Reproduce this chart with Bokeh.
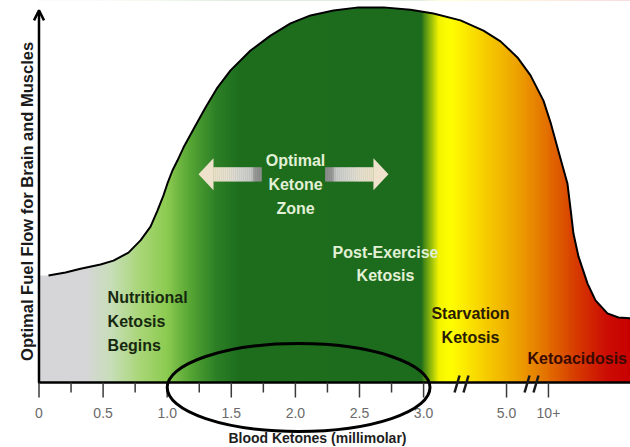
import numpy as np
from bokeh.plotting import figure
from bokeh.models import Range1d, Arrow, OpenHead
from bokeh.core.properties import value
from bokeh.embed import file_html
from bokeh.resources import INLINE

# ---- data -------------------------------------------------------------
# Blood-ketone axis: linear 0-3 mmol/L, then compressed past two breaks
MAJOR_TICKS = [0.0, 0.5, 1.0, 1.5, 2.0, 2.5, 3.0, 3.647, 3.974]
MAJOR_LABELS = ["0", "0.5", "1.0", "1.5", "2.0", "2.5", "3.0", "5.0", "10+"]
MINOR_TICKS = [0.25, 0.75, 1.25, 1.75, 2.25, 2.75]
AXIS_BREAKS = [3.296, 3.842]

# Relative fuel flow (0-100) along the ketone axis
CURVE_X = [0.074, 0.207, 0.324, 0.480, 0.581, 0.698, 0.792, 0.870, 0.924,
           0.971, 1.002, 1.041, 1.080, 1.127, 1.221, 1.299, 1.392, 1.494,
           1.650, 1.806, 1.962, 2.118, 2.297, 2.492, 2.687, 2.898, 3.077,
           3.288, 3.467, 3.600, 3.732, 3.834, 3.935, 3.990, 4.044, 4.083,
           4.122, 4.146, 4.169, 4.208, 4.279, 4.341, 4.434, 4.520, 4.614]
CURVE_Y = [28.0, 28.8, 29.8, 30.9, 31.9, 34.0, 37.2, 40.8, 45.0,
           49.0, 52.1, 55.5, 58.1, 61.5, 67.3, 72.0, 77.2, 81.7,
           86.9, 90.8, 94.0, 96.1, 97.4, 98.2, 98.2, 97.6, 96.6,
           94.8, 92.1, 89.3, 85.1, 80.4, 73.8, 68.1, 61.5, 56.8,
           52.1, 45.5, 39.0, 33.0, 25.9, 21.5, 18.1, 17.0, 16.8]

OPTIMAL_ZONE = [1.244, 2.726]      # span of the double arrow
HIGHLIGHT_RANGE = [1.0, 3.05]      # band circled on the axis

ZONE_LINES = ["Optimal", "Ketone", "Zone"]
POST_LINES = ["Post-Exercise", "Ketosis"]
NUTRI_LINES = ["Nutritional", "Ketosis", "Begins"]
STARV_LINES = ["Starvation", "Ketosis"]
ACID_LINES = ["Ketoacidosis"]

X_TITLE = "Blood Ketones (millimolar)"
Y_TITLE = "Optimal Fuel Flow for Brain and Muscles"

# ---- styling ------------------------------------------------------------
X_MAX = 4.614
Y_MAX = 100.0

STOP_X = [0.0, 0.363, 0.558, 0.792, 0.987, 1.182, 1.377, 1.556, 2.976,
          3.038, 3.116, 3.210, 3.444, 3.717, 3.951, 4.185, 4.419, 4.614]
STOP_RGB = [(214, 214, 218), (214, 215, 216), (200, 222, 185), (168, 214, 118),
            (142, 204, 82), (85, 165, 52), (45, 128, 38), (30, 110, 30),
            (29, 108, 29), (120, 170, 15), (245, 245, 0), (255, 255, 0),
            (248, 212, 0), (238, 165, 0), (228, 115, 0), (215, 60, 0),
            (205, 15, 5), (200, 0, 0)]

SANS = value("Liberation Sans")
LIGHT_TXT = "#e2f0d6"

p = figure(width=630, height=447, title=None,
           x_range=Range1d(-0.3003, X_MAX), y_range=Range1d(-17.016, Y_MAX),
           min_border=0, toolbar_location=None, output_backend="svg",
           x_axis_location=None, y_axis_location=None)
p.grid.visible = False
p.outline_line_color = None
p.background_fill_color = "white"
p.border_fill_color = "white"

# horizontal colour band under the curve
N = 620
cols = np.linspace(0, X_MAX, N)
img = np.empty((1, N), dtype=np.uint32)
view = img.view(dtype=np.uint8).reshape((1, N, 4))
for ch in range(3):
    view[0, :, ch] = np.interp(cols, STOP_X, [c[ch] for c in STOP_RGB]).astype(np.uint8)
view[0, :, 3] = 255
p.image_rgba(image=[img], x=0, y=0, dw=X_MAX, dh=Y_MAX)

# blank out everything above the curve
cover_x = [0.0] + CURVE_X + [X_MAX + 0.05, X_MAX + 0.05, 0.0]
cover_y = [CURVE_Y[0]] + CURVE_Y + [CURVE_Y[-1], Y_MAX + 1, Y_MAX + 1]
p.patch(cover_x, cover_y, fill_color="white", line_color=None)
p.line(CURVE_X, CURVE_Y, line_color="black", line_width=2)

# double arrow of the optimal zone
HEAD_L, SHAFT_L = 0.117, 0.375
ARROW_V, HEAD_H, SHAFT_H = 54.5, 4.2, 1.85
SHAFT_STOPS = [0.0, 0.3, 0.55, 0.8, 0.86, 1.0]
SHAFT_RGB = [(236, 224, 200), (230, 222, 208), (214, 212, 208), (200, 200, 200),
             (150, 150, 150), (140, 140, 140)]
n_strip = 24
frac = (np.arange(n_strip) + 0.5) / n_strip
strip_cols = ["#%02x%02x%02x" % tuple(int(np.interp(f, SHAFT_STOPS, [c[i] for c in SHAFT_RGB])) for i in range(3))
              for f in frac]
for tip, sgn in ((OPTIMAL_ZONE[0], 1), (OPTIMAL_ZONE[1], -1)):
    base = tip + sgn * HEAD_L
    p.patch([tip, base, base], [ARROW_V, ARROW_V + HEAD_H, ARROW_V - HEAD_H],
            fill_color="#eee2cc", line_color=None)
    edges = base + sgn * SHAFT_L * np.arange(n_strip + 1) / n_strip
    lefts = np.minimum(edges[:-1], edges[1:])
    rights = np.maximum(edges[:-1], edges[1:])
    p.quad(left=lefts - 0.002, right=rights + 0.002, bottom=ARROW_V - SHAFT_H,
           top=ARROW_V + SHAFT_H, fill_color=strip_cols, line_color=None)

def block(lines, x, y0, step, color, align):
    p.text(x=[x] * len(lines), y=[y0 - i * step for i in range(len(lines))], text=lines,
           text_font=SANS, text_font_style="bold", text_font_size="16px",
           text_color=color, text_align=align, text_baseline="alphabetic")

block(ZONE_LINES, 2.001, 58.2, 6.28, LIGHT_TXT, "center")
block(POST_LINES, 2.703, 34.0, 6.0, LIGHT_TXT, "center")
block(NUTRI_LINES, 0.535, 22.3, 6.3, "#16280f", "left")
block(STARV_LINES, 3.366, 18.1, 6.3, "#2a1c00", "center")
block(ACID_LINES, 3.81, 6.3, 6.3, "#3a0a00", "left")

# x axis: line, ticks, breaks, labels
p.segment(x0=[-0.008], y0=[0], x1=[X_MAX], y1=[0], line_color="black", line_width=2.5)
p.segment(x0=MAJOR_TICKS, y0=[0] * len(MAJOR_TICKS), x1=MAJOR_TICKS, y1=[-3.93] * len(MAJOR_TICKS),
          line_color="#3a3a3a", line_width=1.5)
p.segment(x0=MINOR_TICKS, y0=[0] * len(MINOR_TICKS), x1=MINOR_TICKS, y1=[-2.62] * len(MINOR_TICKS),
          line_color="#3a3a3a", line_width=1.5)
bx0, bx1, by0, by1 = [], [], [], []
for c in AXIS_BREAKS:
    for off in (-0.035, 0.035):
        bx0.append(c + off - 0.0195)
        bx1.append(c + off + 0.0195)
        by0.append(-2.62)
        by1.append(1.83)
p.segment(x0=bx0, y0=by0, x1=bx1, y1=by1, line_color="#1a1a1a", line_width=2.5)
p.text(x=MAJOR_TICKS, y=[-8.1] * len(MAJOR_TICKS), text=MAJOR_LABELS,
       text_font=SANS, text_font_size="14px", text_color="#6a6a6a",
       text_align="center", text_baseline="alphabetic")
p.text(x=[2.172], y=[-14.4], text=[X_TITLE], text_font=SANS, text_font_style="bold",
       text_font_size="14px", text_color="#1e1e1e", text_align="center",
       text_baseline="alphabetic")

# circled band on the axis
hc = (HIGHLIGHT_RANGE[0] + HIGHLIGHT_RANGE[1]) / 2
hw = HIGHLIGHT_RANGE[1] - HIGHLIGHT_RANGE[0]
p.ellipse(x=[hc], y=[-1.31], width=[hw], height=[23.0], fill_color=None,
          line_color="black", line_width=3)

# y axis with arrow head and title
p.add_layout(Arrow(x_start=0, y_start=0, x_end=0, y_end=97.4, line_color="black", line_width=2.5,
                   end=OpenHead(size=10, line_width=2.5, line_color="black")))
p.text(x=[-0.0897], y=[47.4], text=[Y_TITLE], angle=np.pi / 2, text_font=SANS,
       text_font_style="bold", text_font_size="16.5px", text_color="#1a1a1a",
       text_align="center", text_baseline="alphabetic")

open("out.html", "w").write(file_html(p, INLINE))
